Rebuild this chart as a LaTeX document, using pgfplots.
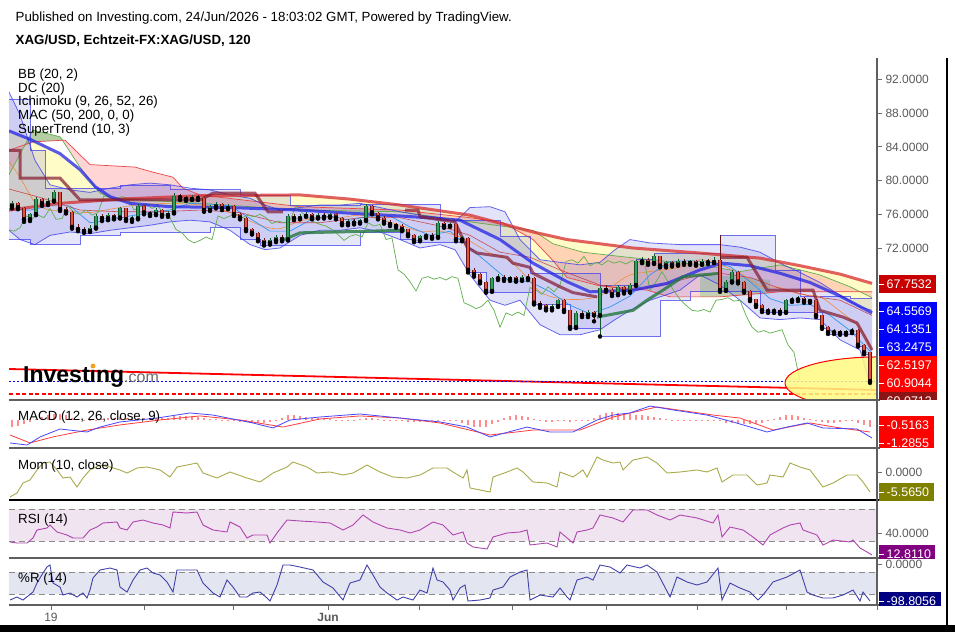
\documentclass[border=0pt]{standalone}
\usepackage{pgfplots}
\pgfplotsset{compat=1.18}
\usepackage{pgfplotstable}
\usepackage{fontspec}
\setmainfont{Liberation Sans}

\definecolor{candG}{RGB}{50,160,90}
\definecolor{candGd}{RGB}{20,85,45}
\definecolor{candR}{RGB}{225,85,65}
\definecolor{candRd}{RGB}{100,20,20}
\definecolor{bbline}{RGB}{55,55,235}
\definecolor{bbfill}{RGB}{90,90,220}
\definecolor{maR}{RGB}{215,45,45}
\definecolor{maB}{RGB}{35,35,230}
\definecolor{stD}{RGB}{130,25,45}
\definecolor{stU}{RGB}{35,120,60}
\definecolor{spanAc}{RGB}{95,175,75}
\definecolor{spanBc}{RGB}{235,70,70}
\definecolor{cloudR}{RGB}{255,150,150}
\definecolor{cloudG}{RGB}{130,200,130}
\definecolor{yfill}{RGB}{255,252,200}
\definecolor{tenk}{RGB}{50,150,240}
\definecolor{kij}{RGB}{200,40,40}
\definecolor{basis}{RGB}{240,140,60}
\definecolor{axgray}{RGB}{110,110,110}
\definecolor{labgray}{RGB}{90,90,90}
\definecolor{sepgray}{RGB}{95,95,95}
\definecolor{macdB}{RGB}{70,70,255}
\definecolor{macdR}{RGB}{255,60,60}
\definecolor{histc}{RGB}{255,140,140}
\definecolor{momc}{RGB}{170,170,75}
\definecolor{rsic}{RGB}{175,70,175}
\definecolor{rsiband}{RGB}{241,228,241}
\definecolor{wrc}{RGB}{65,65,170}
\definecolor{wrband}{RGB}{227,229,241}
\definecolor{ellf}{RGB}{255,250,130}
\definecolor{boxDR}{RGB}{200,0,0}
\definecolor{boxB}{RGB}{0,0,255}
\definecolor{boxR}{RGB}{255,0,0}
\definecolor{boxDDR}{RGB}{140,20,20}
\definecolor{boxOl}{RGB}{128,128,0}
\definecolor{boxPu}{RGB}{128,0,128}
\definecolor{boxNv}{RGB}{0,0,128}
\definecolor{logogray}{RGB}{110,110,110}
\definecolor{logoorange}{RGB}{245,160,30}

\newcommand\ticfont{\fontsize{12}{14}\selectfont}
\newcommand\txtfont{\fontsize{13.3}{15}\selectfont}
\newcommand\boxfont{\fontsize{12.5}{14}\selectfont}

\pgfplotsset{panel/.style={anchor=south west, scale only axis, width=868pt,
  xmin=9, xmax=877, axis line style={draw=none}, xtick=\empty,
  ytick pos=right, yticklabel pos=right, tick align=outside, major tick length=5pt,
  tick style={draw=axgray, line width=.8pt},
  yticklabel style={font=\ticfont, text=labgray},
  xticklabel style={font=\ticfont, text=labgray}}}

\newcommand{\pbox}[4]{%
  \fill[#2] (879,{632-#1-9}) rectangle (#3,{632-#1+9});
  \draw[white, line width=.8pt] (879,{632-#1}) -- (884,{632-#1});
  \node[anchor=west, inner sep=0pt, text=white, font=\boxfont] at (886.5,{632-#1}) {#4};}

\pgfplotstableread{
x o h l c
12 77.0 77.6 76.7 77.3
18 77.3 77.5 76.6 76.8
24 76.8 76.9 75.1 75.4
30 75.4 76.2 75.2 76.0
36 76.0 78.0 75.9 77.8
42 77.8 77.9 77.0 77.3
48 77.3 77.9 77.1 77.6
54 77.6 78.9 77.5 78.6
60 78.6 78.7 76.4 76.6
66 76.6 76.9 76.1 76.3
72 76.3 76.4 74.3 74.5
78 74.5 74.8 74.0 74.2
84 74.2 74.5 73.8 74.0
90 74.0 74.7 73.9 74.4
96 74.4 76.0 74.3 75.8
102 75.8 76.0 75.2 75.5
108 75.5 76.1 75.3 75.9
114 75.9 76.0 75.4 75.6
120 75.6 76.9 75.5 76.7
126 76.7 76.8 75.2 75.4
132 75.4 75.8 75.1 75.5
138 75.5 77.2 75.4 77.0
144 77.0 77.1 76.0 76.2
150 76.2 76.4 75.8 76.0
156 76.0 76.7 75.9 76.5
162 76.5 76.6 75.7 75.9
168 75.9 76.4 75.7 76.2
174 76.2 78.5 76.1 78.2
180 78.2 78.4 77.7 78.0
186 78.0 78.2 77.6 77.8
192 77.8 78.3 77.7 78.1
198 78.1 78.3 77.7 77.9
204 77.9 78.0 76.3 76.5
210 76.5 77.1 76.4 76.9
216 76.9 77.4 76.7 77.2
222 77.2 77.3 76.5 76.7
228 76.7 77.2 76.6 77.0
234 77.0 77.1 75.8 76.0
240 76.0 76.2 75.4 75.6
246 75.6 75.7 74.0 74.2
252 74.2 74.4 73.6 73.8
258 73.8 73.9 72.8 73.0
264 73.0 73.2 72.3 72.6
270 72.6 73.2 72.4 72.9
276 72.9 73.5 72.7 73.3
282 73.3 73.5 72.8 73.0
288 73.0 76.0 72.9 75.8
294 75.8 76.0 75.3 75.5
300 75.5 76.0 75.4 75.8
306 75.8 76.3 75.7 76.0
312 76.0 76.1 75.4 75.6
318 75.6 76.1 75.5 75.9
324 75.9 76.1 75.5 75.7
330 75.7 76.2 75.6 76.0
336 76.0 76.1 75.4 75.6
342 75.6 75.7 74.7 74.9
348 74.9 75.4 74.7 75.2
354 75.2 75.4 74.8 75.0
360 75.0 75.5 74.9 75.3
366 75.3 77.2 75.2 77.0
372 77.0 77.1 76.0 76.2
378 76.2 76.3 75.4 75.6
384 75.6 75.8 74.9 75.1
390 75.1 75.3 74.6 74.8
396 74.8 75.0 74.4 74.6
402 74.6 74.8 74.0 74.2
408 74.2 74.3 73.4 73.6
414 73.6 73.7 72.7 72.9
420 72.9 73.6 72.8 73.4
426 73.4 73.8 73.2 73.6
432 73.6 73.8 73.1 73.3
438 73.3 75.2 73.2 75.0
444 75.0 75.1 74.4 74.6
450 74.6 75.0 74.5 74.8
456 74.8 74.9 72.8 73.0
462 73.0 73.4 72.8 73.2
468 73.2 73.3 69.1 69.4
474 69.4 69.6 68.6 68.9
480 68.9 69.0 67.8 68.0
486 68.0 68.1 66.7 66.9
492 66.9 68.6 66.8 68.4
498 68.4 68.9 68.2 68.6
504 68.6 68.8 68.1 68.3
510 68.3 68.7 68.1 68.5
516 68.5 68.7 68.0 68.2
522 68.2 68.8 68.1 68.6
528 68.6 68.9 68.2 68.4
534 68.4 68.5 65.3 65.5
540 65.5 65.7 64.9 65.2
546 65.2 65.3 64.6 64.8
552 64.8 65.3 64.6 65.1
558 65.1 66.0 65.0 65.8
564 65.8 65.9 64.4 64.6
570 64.6 64.7 62.4 62.6
576 62.6 64.5 62.5 64.3
582 64.3 64.5 63.8 64.0
588 64.0 64.6 63.8 64.4
594 64.4 64.5 63.3 64.0
600 64.0 67.5 61.5 67.3
606 67.3 67.6 66.8 67.0
612 67.0 67.2 66.3 66.5
618 66.5 67.6 66.4 67.4
624 67.4 67.5 66.6 66.8
630 66.8 67.8 66.7 67.6
636 67.6 70.6 67.5 70.4
642 70.4 70.9 70.2 70.6
648 70.6 70.8 70.0 70.2
654 70.2 71.3 70.1 71.0
660 71.0 71.1 69.7 69.9
666 69.9 70.5 69.7 70.3
672 70.3 70.5 69.8 70.0
678 70.0 70.7 69.9 70.5
684 70.5 70.7 70.0 70.2
690 70.2 70.6 70.0 70.4
696 70.4 70.6 69.9 70.1
702 70.1 70.7 70.0 70.5
708 70.5 70.7 70.1 70.3
714 70.3 70.9 70.2 70.6
720 70.6 73.5 66.8 67.0
726 67.0 68.2 66.9 68.0
732 68.0 69.4 67.9 69.2
738 69.2 69.3 67.8 68.0
744 68.0 68.1 66.7 66.9
750 66.9 67.0 65.7 65.9
756 65.9 66.0 65.0 65.2
762 65.2 65.3 64.4 64.6
768 64.6 64.9 64.3 64.5
774 64.5 64.9 64.3 64.7
780 64.7 64.9 64.2 64.4
786 64.4 66.0 64.3 65.8
792 65.8 66.2 65.6 65.9
798 65.9 66.3 65.7 66.1
804 66.1 66.2 65.5 65.7
810 65.7 66.0 65.5 65.8
816 65.8 65.9 63.8 64.0
822 64.0 64.1 62.4 62.6
828 62.6 62.7 61.8 62.0
834 62.0 62.4 61.8 62.2
840 62.2 62.3 61.7 61.9
846 61.9 62.3 61.7 62.1
852 62.1 62.5 61.9 62.3
858 62.3 62.4 60.3 60.5
864 60.5 60.6 59.4 59.6
870 59.6 59.7 56.0 56.2
}\candles

\begin{document}
\begin{tikzpicture}[x=1pt,y=1pt]
\fill[white] (0,0) rectangle (955,632);

%================ MAIN PANEL ================
\begin{axis}[panel, at={(9pt,232pt)}, height=342pt, ymin=53.96, ymax=94.55,
  ytick={72,76,80,84,88,92},
  yticklabels={72.0000,76.0000,80.0000,84.0000,88.0000,92.0000}]
% --- area between MA 50 and MA 200
\addplot[draw=none, fill=yfill, forget plot] coordinates {(9,85.9) (30,84.9) (60,83.2) (80,81.3) (95,79.3) (110,78.1) (130,77.3) (170,76.9) (230,76.8) (300,76.5) (340,76.2) (400,75.8) (440,75.5) (460,75.3) (500,73.0) (533,70.2) (567,68.0) (590,66.8) (633,67.0) (667,67.8) (700,69.4) (722,70.2) (750,69.9) (780,69.0) (810,67.9) (840,66.3) (872,64.3) (872,67.8) (840,68.9) (800,69.9) (760,70.8) (700,71.4) (633,72.0) (567,73.0) (533,73.9) (470,75.9) (400,77.1) (350,77.8) (300,78.3) (200,78.2) (120,77.8) (60,77.3) (9,76.5)};
% --- Ichimoku cloud
\addplot[draw=none, fill=cloudR, fill opacity=.4, forget plot] coordinates {(9,80.7) (33,86.0) (60,85.2) (80,81.6) (100,78.5) (113,77.9) (200,77.3) (300,76.5) (400,76.3) (470,75.1) (533,74.1) (553,72.5) (583,71.5) (620,71.0) (660,70.5) (700,70.0) (740,69.2) (780,70.0) (820,68.8) (850,67.4) (872,66.1) (872,66.8) (780,66.8) (720,66.2) (670,66.2) (647,67.0) (600,67.5) (567,68.5) (553,70.5) (533,73.0) (503,75.0) (470,75.6) (400,76.5) (300,76.9) (200,78.3) (183,79.1) (173,80.4) (153,81.0) (135,81.6) (90,81.9) (65,84.8) (33,84.6) (9,83.6)};
\addplot[draw=none, fill=cloudG, fill opacity=.6, forget plot] coordinates {(24,84.1) (33,86.0) (60,85.2) (64,84.8) (33,84.6) (24,84.1)};
\addplot[draw=none, fill=cloudG, fill opacity=.45, forget plot] coordinates {(700,68.8) (740,68.6) (770,68.2) (770,66.6) (720,66.2) (700,66.2) (700,68.8)};
% --- Bollinger band area
\addplot[draw=none, fill=bbfill, fill opacity=.17, forget plot] coordinates {(9,90.5) (20,87.8) (35,82.4) (50,79.5) (70,78.9) (90,78.6) (110,79.1) (130,79.5) (150,79.7) (170,79.5) (190,79.1) (210,78.9) (230,78.3) (250,77.9) (265,77.1) (280,76.5) (300,76.8) (320,77.1) (340,77.1) (360,77.3) (380,76.8) (400,76.3) (420,75.9) (440,75.6) (455,75.1) (470,76.8) (490,76.9) (505,76.3) (520,73.0) (540,70.6) (560,70.3) (580,70.0) (600,70.3) (615,71.8) (630,73.0) (650,72.6) (680,72.4) (700,72.4) (720,72.4) (740,72.1) (760,71.5) (780,70.2) (800,69.1) (820,67.9) (840,66.4) (860,65.0) (872,64.6) (872,55.0) (860,59.9) (840,61.1) (820,63.5) (800,63.7) (780,63.5) (760,63.7) (740,65.8) (720,67.6) (700,68.8) (680,67.0) (650,65.8) (630,64.6) (615,63.5) (600,62.3) (580,61.7) (560,61.7) (540,62.9) (520,65.8) (505,65.2) (490,65.8) (470,68.8) (455,71.8) (440,72.4) (420,72.0) (400,73.0) (380,73.9) (360,74.4) (340,74.1) (320,74.1) (300,73.5) (280,72.0) (265,71.8) (250,72.4) (230,74.1) (210,75.1) (190,75.3) (170,75.1) (150,74.7) (130,74.4) (110,74.1) (90,73.7) (70,73.9) (50,73.5) (35,72.4) (20,73.0) (9,74.1)};
% --- Donchian channel area
\addplot[draw=none, fill=bbfill, fill opacity=.15, forget plot] coordinates {(9,89.6) (30,89.6) (30,83.6) (45,83.6) (45,79.1) (120,79.1) (120,79.4) (170,79.4) (170,78.9) (240,78.9) (240,78.3) (290,78.3) (290,77.1) (360,77.1) (360,77.2) (440,77.2) (440,75.3) (500,75.3) (500,73.4) (530,73.4) (530,69.0) (600,69.0) (600,67.6) (636,67.6) (636,70.6) (654,70.6) (654,71.3) (720,71.3) (720,73.5) (775,73.5) (775,69.4) (800,69.4) (800,66.3) (850,66.3) (850,66.0) (872,66.0) (872,59.4) (864,59.4) (864,60.3) (858,60.3) (858,61.8) (828,61.8) (828,62.4) (822,62.4) (822,64.4) (760,64.4) (760,66.8) (690,66.8) (690,65.8) (660,65.8) (660,61.5) (600,61.5) (600,62.4) (570,62.4) (570,65.3) (534,65.3) (534,66.7) (486,66.7) (486,69.1) (468,69.1) (468,72.7) (414,72.7) (414,73.0) (400,73.0) (400,73.9) (360,73.9) (360,72.3) (260,72.3) (260,73.0) (240,73.0) (240,74.4) (210,74.4) (210,73.8) (120,73.8) (120,73.5) (80,73.5) (80,72.4) (30,72.4) (30,73.0) (9,73.0)};
% --- Ichimoku leading spans
\addplot[spanAc, line width=.7pt, mark=none] coordinates {(9,80.7) (33,86.0) (60,85.2) (80,81.6) (100,78.5) (113,77.9) (200,77.3) (300,76.5) (400,76.3) (470,75.1) (533,74.1) (553,72.5) (583,71.5) (620,71.0) (660,70.5) (700,70.0) (740,69.2) (780,70.0) (820,68.8) (850,67.4) (872,66.1)};
\addplot[spanBc, line width=.7pt, mark=none] coordinates {(9,83.6) (33,84.6) (65,84.8) (90,81.9) (135,81.6) (153,81.0) (173,80.4) (183,79.1) (200,78.3) (300,76.9) (400,76.5) (470,75.6) (503,75.0) (533,73.0) (553,70.5) (567,68.5) (600,67.5) (647,67.0) (670,66.2) (720,66.2) (780,66.8) (872,66.8)};
% --- Bollinger and Donchian lines
\addplot[bbline, opacity=.75, line width=.8pt, mark=none] coordinates {(9,90.5) (20,87.8) (35,82.4) (50,79.5) (70,78.9) (90,78.6) (110,79.1) (130,79.5) (150,79.7) (170,79.5) (190,79.1) (210,78.9) (230,78.3) (250,77.9) (265,77.1) (280,76.5) (300,76.8) (320,77.1) (340,77.1) (360,77.3) (380,76.8) (400,76.3) (420,75.9) (440,75.6) (455,75.1) (470,76.8) (490,76.9) (505,76.3) (520,73.0) (540,70.6) (560,70.3) (580,70.0) (600,70.3) (615,71.8) (630,73.0) (650,72.6) (680,72.4) (700,72.4) (720,72.4) (740,72.1) (760,71.5) (780,70.2) (800,69.1) (820,67.9) (840,66.4) (860,65.0) (872,64.6)};
\addplot[bbline, opacity=.75, line width=.8pt, mark=none] coordinates {(9,74.1) (20,73.0) (35,72.4) (50,73.5) (70,73.9) (90,73.7) (110,74.1) (130,74.4) (150,74.7) (170,75.1) (190,75.3) (210,75.1) (230,74.1) (250,72.4) (265,71.8) (280,72.0) (300,73.5) (320,74.1) (340,74.1) (360,74.4) (380,73.9) (400,73.0) (420,72.0) (440,72.4) (455,71.8) (470,68.8) (490,65.8) (505,65.2) (520,65.8) (540,62.9) (560,61.7) (580,61.7) (600,62.3) (615,63.5) (630,64.6) (650,65.8) (680,67.0) (700,68.8) (720,67.6) (740,65.8) (760,63.7) (780,63.5) (800,63.7) (820,63.5) (840,61.1) (860,59.9) (872,55.0)};
\addplot[bbline, opacity=.7, line width=.8pt, mark=none, const plot] coordinates {(9,89.6) (30,83.6) (45,79.1) (120,79.4) (170,78.9) (240,78.3) (290,77.1) (360,77.2) (440,75.3) (500,73.4) (530,69.0) (600,67.6) (636,70.6) (654,71.3) (720,73.5) (775,69.4) (800,66.3) (850,66.0) (872,66.0)};
\addplot[bbline, opacity=.7, line width=.8pt, mark=none, const plot] coordinates {(9,73.0) (30,72.4) (80,73.5) (120,73.8) (210,74.4) (240,73.0) (260,72.3) (360,73.9) (400,73.0) (414,72.7) (468,69.1) (486,66.7) (534,65.3) (570,62.4) (600,61.5) (660,65.8) (690,66.8) (760,64.4) (822,62.4) (828,61.8) (858,60.3) (864,59.4) (872,59.4)};
% --- BB basis, Ichimoku conversion / base / lagging
\addplot[basis, line width=.6pt, mark=none, smooth] coordinates {(9,82.3) (20,80.4) (35,77.4) (50,76.5) (70,76.4) (90,76.2) (110,76.6) (130,77.0) (150,77.2) (170,77.3) (190,77.2) (210,77.0) (230,76.2) (250,75.2) (265,74.5) (280,74.3) (300,75.2) (320,75.6) (340,75.6) (360,75.9) (380,75.4) (400,74.7) (420,74.0) (440,74.0) (455,73.5) (470,72.8) (490,71.4) (505,70.8) (520,69.4) (540,66.8) (560,66.0) (580,65.9) (600,66.3) (615,67.7) (630,68.8) (650,69.2) (680,69.7) (700,70.6) (720,70.0) (740,69.0) (760,67.5) (780,67.3) (800,66.5) (820,66.2) (840,64.5) (860,62.5) (872,59.8)};
\addplot[tenk, line width=.7pt, mark=none] coordinates {(9,76.5) (30,76.5) (50,77.0) (70,77.0) (90,75.0) (110,75.3) (130,75.8) (150,76.2) (170,76.5) (190,77.3) (210,77.2) (230,77.0) (250,75.5) (270,74.0) (290,74.0) (310,75.3) (330,75.8) (350,75.3) (370,75.8) (390,75.8) (410,74.5) (430,73.5) (450,74.0) (470,72.0) (490,70.0) (510,68.0) (530,68.0) (550,66.8) (570,65.2) (590,64.2) (610,65.0) (630,66.3) (650,68.8) (670,70.4) (690,70.5) (710,70.3) (730,69.8) (750,68.0) (770,66.0) (790,65.2) (810,65.3) (830,64.0) (850,62.2) (872,59.5)};
\addplot[kij, opacity=.8, line width=.6pt, mark=none] coordinates {(9,79.0) (40,78.0) (80,76.5) (120,76.3) (160,76.3) (200,76.5) (240,76.2) (280,75.0) (320,75.0) (360,75.6) (400,75.6) (440,74.6) (470,73.5) (500,71.5) (530,70.9) (560,69.4) (600,67.6) (630,67.0) (660,67.5) (690,68.5) (720,69.0) (750,68.5) (780,67.2) (810,66.3) (840,65.8) (872,64.0)};
\addplot[spanAc, line width=.7pt, mark=none] table[x expr={\thisrow{x}-70}, y=c] {\candles};
% --- moving averages
\addplot[maR, opacity=.75, line width=3pt, mark=none] coordinates {(9,76.5) (60,77.3) (120,77.8) (200,78.2) (300,78.3) (350,77.8) (400,77.1) (470,75.9) (533,73.9) (567,73.0) (633,72.0) (700,71.4) (760,70.8) (800,69.9) (840,68.9) (872,67.8)};
\addplot[maB, opacity=.75, line width=3pt, mark=none] coordinates {(9,85.9) (30,84.9) (60,83.2) (80,81.3) (95,79.3) (110,78.1) (130,77.3) (170,76.9) (230,76.8) (300,76.5) (340,76.2) (400,75.8) (440,75.5) (460,75.3) (500,73.0) (533,70.2) (567,68.0) (590,66.8) (633,67.0) (667,67.8) (700,69.4) (722,70.2) (750,69.9) (780,69.0) (810,67.9) (840,66.3) (872,64.3)};
% --- SuperTrend
\addplot[stD, opacity=.7, line width=3pt, mark=none] coordinates {(9,83.6) (20,83.6) (20,80.3) (60,80.3) (80,77.7) (200,77.7) (213,78.5) (255,78.5) (268,76.3) (283,76.3)};
\addplot[stU, opacity=.8, line width=3pt, mark=none] coordinates {(283,72.95) (300,73.8) (405,74.1)};
\addplot[stD, opacity=.7, line width=3pt, mark=none] coordinates {(405,76.5) (418,76.5) (420,75.7) (455,75.1) (460,73.8) (467,72.1) (477,71.4) (507,70.9) (513,70.2) (530,69.7) (533,69.0) (560,67.4) (573,66.7) (597,66.2)};
\addplot[stU, opacity=.8, line width=3pt, mark=none] coordinates {(597,63.8) (633,64.6) (647,65.8) (663,67.0) (683,68.6) (720,69.0)};
\addplot[stD, opacity=.7, line width=3pt, mark=none] coordinates {(720,70.9) (747,70.9) (767,67.0) (813,67.0) (820,64.6) (843,63.8) (857,63.1) (872,59.9)};
% --- drawings
\addplot[red, line width=1.8pt, mark=none] coordinates {(9,57.64) (877,55.15)};
\addplot[red, line width=1.5pt, dash pattern=on 4pt off 2.5pt, mark=none] coordinates {(9,54.67) (877,54.67)};
\addplot[blue, line width=.6pt, dash pattern=on 2pt off 2pt, mark=none] coordinates {(9,56.21) (877,56.21)};
\fill[ellf, fill opacity=.85] (axis cs:877,55.98) ellipse [x radius=92pt, y radius=26pt];
\draw[red, line width=1pt] (axis cs:877,55.98) ellipse [x radius=92pt, y radius=26pt];
% --- candles
\addplot[only marks, mark=none, forget plot, x filter/.expression={\thisrow{c}>=\thisrow{o} ? x : nan},
  error bars/.cd, y dir=plus, y explicit, error mark=none, error bar style={line width=.8pt, candGd}]
  table[x=x, y=l, y error plus expr={\thisrow{h}-\thisrow{l}}] {\candles};
\addplot[only marks, mark=none, forget plot, x filter/.expression={\thisrow{c}<\thisrow{o} ? x : nan},
  error bars/.cd, y dir=plus, y explicit, error mark=none, error bar style={line width=.8pt, candRd}]
  table[x=x, y=l, y error plus expr={\thisrow{h}-\thisrow{l}}] {\candles};
\addplot[only marks, mark=none, forget plot, x filter/.expression={\thisrow{c}>=\thisrow{o} ? x : nan},
  error bars/.cd, y dir=plus, y explicit, error mark=none, error bar style={line width=3.6pt, candGd}]
  table[x=x, y=o, y error plus expr={\thisrow{c}-\thisrow{o}}] {\candles};
\addplot[only marks, mark=none, forget plot, x filter/.expression={\thisrow{c}>=\thisrow{o} ? x : nan},
  error bars/.cd, y dir=plus, y explicit, error mark=none, error bar style={line width=2.2pt, candG}]
  table[x=x, y=o, y error plus expr={\thisrow{c}-\thisrow{o}}] {\candles};
\addplot[only marks, mark=none, forget plot, x filter/.expression={\thisrow{c}<\thisrow{o} ? x : nan},
  error bars/.cd, y dir=plus, y explicit, error mark=none, error bar style={line width=3.6pt, candRd}]
  table[x=x, y=c, y error plus expr={\thisrow{o}-\thisrow{c}}] {\candles};
\addplot[only marks, mark=none, forget plot, x filter/.expression={\thisrow{c}<\thisrow{o} ? x : nan},
  error bars/.cd, y dir=plus, y explicit, error mark=none, error bar style={line width=2.2pt, candR}]
  table[x=x, y=c, y error plus expr={\thisrow{o}-\thisrow{c}}] {\candles};
\end{axis}

%================ MACD ================
\begin{axis}[panel, at={(9pt,184pt)}, height=48pt, ymin=-1.867, ymax=1.333, ytick=\empty]
\addplot[ycomb, histc, line width=1.2pt, mark=none] coordinates {(12,-0.45) (18,-0.4) (24,-0.3) (30,-0.15) (36,0.05) (42,0.2) (48,0.3) (54,0.4) (60,0.4) (66,0.3) (72,0.15) (78,0.05) (84,-0.08) (90,-0.1) (96,0.02) (102,0.08) (108,0.12) (114,0.15) (120,0.18) (126,0.15) (132,0.12) (138,0.15) (144,0.12) (150,0.1) (156,0.12) (162,0.1) (168,0.15) (174,0.25) (180,0.28) (186,0.28) (192,0.26) (198,0.2) (204,0.12) (210,0.08) (216,0.05) (222,0.02) (228,-0.05) (234,-0.08) (240,-0.12) (246,-0.15) (252,-0.18) (258,-0.2) (264,-0.18) (270,-0.12) (276,0.02) (282,0.15) (288,0.3) (294,0.3) (300,0.25) (306,0.2) (312,0.15) (318,0.12) (324,0.1) (330,0.05) (336,0.02) (342,-0.05) (348,-0.05) (354,0.02) (360,0.05) (366,0.12) (372,0.1) (378,0.05) (384,0.02) (390,-0.05) (396,-0.08) (402,-0.1) (408,-0.12) (414,-0.15) (420,-0.12) (426,-0.08) (432,-0.05) (438,0.02) (444,0.03) (450,0.02) (456,-0.1) (462,-0.2) (468,-0.35) (474,-0.45) (480,-0.5) (486,-0.45) (492,-0.3) (498,-0.15) (504,0.1) (510,0.25) (516,0.3) (522,0.28) (528,0.2) (534,0.05) (540,-0.1) (546,-0.15) (552,-0.12) (558,-0.08) (564,-0.1) (570,-0.15) (576,-0.1) (582,-0.05) (588,0.02) (594,0.1) (600,0.3) (606,0.45) (612,0.5) (618,0.48) (624,0.45) (630,0.4) (636,0.35) (642,0.3) (648,0.25) (654,0.2) (660,0.1) (666,0.05) (672,0.02) (678,-0.05) (684,-0.08) (690,-0.1) (696,-0.1) (702,-0.08) (708,-0.08) (714,-0.05) (720,-0.1) (726,-0.2) (732,-0.2) (738,-0.25) (744,-0.28) (750,-0.3) (756,-0.28) (762,-0.2) (768,-0.1) (774,0.05) (780,0.2) (786,0.3) (792,0.3) (798,0.25) (804,0.15) (810,0.05) (816,-0.05) (822,-0.15) (828,-0.2) (834,-0.2) (840,-0.15) (846,-0.1) (852,-0.1) (858,-0.2) (864,-0.35) (870,-0.5)};
\addplot[macdR, line width=.8pt, mark=none] coordinates {(10,-1.0) (30,-1.53) (53,-1.13) (87,-0.67) (120,-0.33) (160,0) (200,0.27) (240,0) (283,-0.47) (320,0.07) (360,0.27) (400,0.13) (440,-0.20) (490,-1.0) (533,-0.67) (580,-0.67) (613,0.20) (657,0.87) (713,0.33) (740,0.13) (773,-0.67) (810,-0.20) (840,-0.53) (870,-0.80)};
\addplot[macdB, line width=.8pt, mark=none] coordinates {(10,-1.53) (27,-1.67) (40,-1.13) (60,-0.60) (87,-0.80) (100,-0.47) (120,-0.13) (157,0.13) (190,0.47) (213,0.33) (253,-0.20) (273,-0.53) (290,0) (320,0.20) (360,0.40) (400,0.13) (440,-0.13) (467,-0.47) (490,-1.13) (527,-0.47) (550,-0.80) (573,-0.80) (597,0) (613,0.33) (630,0.47) (650,0.93) (673,0.67) (707,0.33) (733,-0.13) (767,-0.80) (787,-0.47) (807,-0.20) (823,-0.53) (857,-0.60) (872,-1.20)};
\end{axis}

%================ MOMENTUM ================
\begin{axis}[panel, at={(9pt,132pt)}, height=52pt, ymin=-7.78, ymax=6.67, ytick={0}, yticklabels={0.0000}]
\addplot[momc, line width=.9pt, mark=none] coordinates {(10,-6.94) (17,-5.83) (23,-3.06) (30,-2.22) (37,0.56) (43,2.5) (50,2.78) (57,0.56) (63,-1.67) (70,-1.39) (77,-4.17) (83,-1.67) (90,0.56) (100,1.94) (110,1.39) (120,0.56) (127,-0.28) (137,1.11) (147,1.39) (160,0.56) (170,-1.39) (177,1.39) (187,1.94) (197,2.5) (203,-0.28) (217,-1.67) (230,0) (247,-1.67) (260,-2.78) (273,-0.28) (287,1.39) (293,2.78) (307,1.39) (317,-0.28) (330,0) (343,-0.83) (353,-0.28) (367,1.94) (380,0) (393,-1.39) (407,-1.67) (420,-0.83) (433,1.11) (447,1.11) (453,0) (463,-1.67) (467,0.56) (470,-4.44) (480,-5.0) (490,-5.56) (493,-1.39) (507,0) (517,1.11) (523,0) (533,-2.78) (547,-3.06) (557,-4.17) (560,0) (573,-1.39) (583,0.56) (587,-1.39) (597,4.17) (603,3.33) (613,2.5) (620,2.78) (623,0.56) (633,3.33) (647,4.17) (657,2.5) (667,-0.28) (680,0) (697,0.56) (707,0) (717,1.11) (722,-2.78) (733,-0.83) (747,-0.83) (757,-3.61) (767,-3.06) (770,-0.83) (783,-1.39) (790,2.5) (800,1.39) (810,0.56) (823,-4.17) (833,-3.06) (847,-0.83) (857,-0.83) (863,-2.78) (870,-5.56)};
\end{axis}

%================ RSI ================
\begin{axis}[panel, at={(9pt,74pt)}, height=58pt, ymin=8.75, ymax=81.25, ytick={40}, yticklabels={40.0000}]
\addplot[draw=none, fill=rsiband, forget plot] coordinates {(9,30) (877,30) (877,70) (9,70) (9,30)};
\addplot[axgray!80, line width=1pt, dash pattern=on 6pt off 4pt, mark=none] coordinates {(9,70) (877,70)};
\addplot[axgray!80, line width=1pt, dash pattern=on 6pt off 4pt, mark=none] coordinates {(9,30) (877,30)};
\addplot[rsic, line width=.9pt, mark=none] coordinates {(10,28.75) (17,27.5) (27,27.5) (33,33.75) (37,43.75) (47,46.25) (50,50) (57,41.25) (67,37.5) (73,33.75) (83,33.75) (90,43.75) (97,47.5) (103,52.5) (117,53.75) (120,46.25) (127,43.75) (133,53.75) (143,56.25) (153,52.5) (163,50) (170,46.25) (173,66.25) (187,65) (197,66.25) (203,50) (213,43.75) (227,41.25) (230,53.75) (240,47.5) (247,33.75) (253,37.5) (267,37.5) (270,27.5) (277,40) (287,56.25) (300,55) (317,53.75) (330,52.5) (343,43.75) (353,50) (363,62.5) (373,53.75) (387,46.25) (400,43.75) (410,40) (420,43.75) (433,53.75) (443,50) (453,37.5) (463,41.25) (467,27.5) (473,22.5) (487,20) (493,35) (507,40) (520,41.25) (527,43.75) (530,25) (547,27.5) (557,22.5) (560,41.25) (573,27.5) (577,41.25) (587,43.75) (593,46.25) (600,62.5) (613,58.75) (623,53.75) (633,68.75) (647,68.75) (657,62.5) (670,56.25) (680,62.5) (697,58.75) (713,52.5) (718,62.5) (722,35) (730,47.5) (743,43.75) (753,35) (763,25) (770,37.5) (783,46.25) (790,50) (800,52.5) (803,43.75) (817,37.5) (823,25) (833,31.25) (850,28.75) (853,31.25) (860,21.25) (867,16.25) (872,12.5)};
\end{axis}

%================ WILLIAMS %R ================
\begin{axis}[panel, at={(9pt,27pt)}, height=47pt, ymin=-109.8, ymax=18.3, ytick={0}, yticklabels={0.0000},
  xtick={51,144,233,328,419,512,606,697,786,877}, xticklabels={19,,,\textbf{Jun},,,,,,}, xtick pos=bottom]
\addplot[draw=none, fill=wrband, forget plot] coordinates {(9,-80) (877,-80) (877,-20) (9,-20) (9,-80)};
\addplot[axgray!80, line width=1pt, dash pattern=on 6pt off 4pt, mark=none] coordinates {(9,-20) (877,-20)};
\addplot[axgray!80, line width=1pt, dash pattern=on 6pt off 4pt, mark=none] coordinates {(9,-80) (877,-80)};
\addplot[wrc, line width=.9pt, mark=none] coordinates {(10,-96.2) (17,-88) (23,-96.2) (33,-74.4) (37,-49.9) (43,-22.6) (47,-6.3) (50,-0.8) (53,-49.9) (60,-60.8) (63,-82.6) (70,-77.1) (77,-88) (83,-77.1) (87,-90.7) (90,-69) (93,-36.2) (100,-14.4) (110,-9) (117,-14.4) (120,-60.8) (127,-74.4) (133,-41.7) (140,-14.4) (147,-9) (153,-22.6) (160,-28) (167,-47.1) (173,-74.4) (177,-14.4) (187,-14.4) (197,-14.4) (203,-49.9) (213,-77.1) (220,-88) (227,-41.7) (233,-60.8) (240,-88) (247,-88) (253,-77.1) (260,-74.4) (267,-90.7) (270,-99) (277,-55.3) (283,-0.8) (290,-0.8) (300,-6.3) (313,-14.4) (323,-47.1) (333,-63.5) (343,-96.2) (350,-49.9) (360,-41.7) (367,-0.8) (373,-28) (380,-60.8) (387,-77.1) (397,-96.2) (403,-88) (413,-96.2) (420,-69) (427,-77.1) (433,-9) (437,-41.7) (443,-47.1) (450,-69) (453,-96.2) (460,-63.5) (465,-55.3) (468,-99) (480,-96.2) (490,-90.7) (493,-69) (503,-60.8) (510,-33.5) (520,-19.9) (527,-14.4) (530,-96.2) (540,-82.6) (553,-88) (560,-63.5) (567,-88) (570,-96.2) (577,-41.7) (587,-33.5) (593,-41.7) (600,-0.8) (610,-6.3) (620,-22.6) (627,-0.8) (640,-9) (647,-0.8) (657,-19.9) (670,-88) (677,-33.5) (687,-47.1) (697,-55.3) (707,-47.1) (718,-9) (722,-96.2) (730,-49.9) (740,-63.5) (750,-74.4) (758,-96.2) (763,-82.6) (773,-47.1) (787,-33.5) (800,-14.4) (807,-74.4) (813,-82.6) (823,-90.7) (833,-90.7) (843,-82.6) (853,-69) (860,-99) (863,-74.4) (870,-98.8)};
\end{axis}

\draw[sepgray, line width=1.1pt] (9,232) -- (880,232);
\draw[sepgray, line width=1.1pt] (9,184) -- (880,184);
\draw[black, line width=2pt] (9,132) -- (880,132);
\draw[sepgray, line width=1.1pt] (9,74) -- (880,74);
\draw[sepgray, line width=1.1pt] (9,27) -- (880,27);
\draw[sepgray, line width=1.1pt] (877,574) -- (877,27);
\draw[black, line width=1.5pt] (947,574) -- (947,7);
\fill[black] (0,0) rectangle (955,7);

\begin{scope}
\clip (878,232) rectangle (955,574);
\pbox{284}{boxDR}{936}{67.7532}
\pbox{311}{boxB}{937}{64.5569}
\pbox{329}{boxB}{937}{64.1351}
\pbox{347}{boxB}{937}{63.2475}
\pbox{365}{boxR}{937}{62.5197}
\pbox{383}{boxR}{937}{60.9044}
\pbox{401}{boxDDR}{937}{60.0713}
\end{scope}
\begin{scope}
\clip (878,184) rectangle (955,232);
\pbox{425}{boxR}{934}{-0.5163}
\pbox{443}{boxR}{934}{-1.2855}
\end{scope}
\begin{scope}
\clip (878,132) rectangle (955,184);
\pbox{492}{boxOl}{934}{-5.5650}
\end{scope}
\begin{scope}
\clip (878,74) rectangle (955,132);
\pbox{554}{boxPu}{935}{12.8110}
\end{scope}
\begin{scope}
\clip (878,27) rectangle (955,74);
\pbox{601}{boxNv}{941}{-98.8056}
\end{scope}

\node[anchor=base west, inner sep=0pt, font=\txtfont] at (15.5,610.5) {Published on Investing.com, 24/Jun/2026 - 18:03:02 GMT, Powered by TradingView.};
\node[anchor=base west, inner sep=0pt, font=\txtfont\bfseries] at (15.5,587) {XAG/USD, Echtzeit-FX:XAG/USD, 120};
\node[anchor=base west, inner sep=0pt, font=\txtfont] at (18,553.7) {BB (20, 2)};
\node[anchor=base west, inner sep=0pt, font=\txtfont] at (18,539.9) {DC (20)};
\node[anchor=base west, inner sep=0pt, font=\txtfont] at (18,526.1) {Ichimoku (9, 26, 52, 26)};
\node[anchor=base west, inner sep=0pt, font=\txtfont] at (18,512.3) {MAC (50, 200, 0, 0)};
\node[anchor=base west, inner sep=0pt, font=\txtfont] at (18,498.5) {SuperTrend (10, 3)};
\node[anchor=base west, inner sep=0pt, font=\txtfont] at (18,211) {MACD (12, 26, close, 9)};
\node[anchor=base west, inner sep=0pt, font=\txtfont] at (18,163) {Mom (10, close)};
\node[anchor=base west, inner sep=0pt, font=\txtfont] at (18,109) {RSI (14)};
\node[anchor=base west, inner sep=0pt, font=\txtfont] at (18,50) {\%R (14)};
\node[anchor=base west, inner sep=0pt] at (23,249) {{\fontsize{23}{23}\selectfont\bfseries Investing}{\fontsize{16}{16}\selectfont\color{logogray}.com}};
\fill[logoorange] (93,266) circle (2.4);

\pgfresetboundingbox
\path[use as bounding box] (0,0) rectangle (955,632);
\end{tikzpicture}
\end{document}
